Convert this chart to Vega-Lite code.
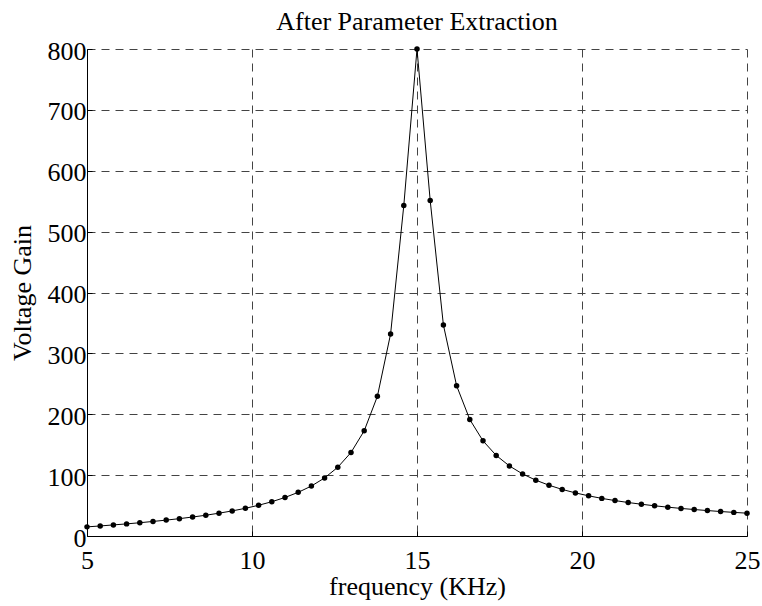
{
  "$schema": "https://vega.github.io/schema/vega-lite/v6.json",
  "autosize": {"type": "none"},
  "padding": {"left": 87, "top": 49, "right": 15, "bottom": 70},
  "width": 660,
  "height": 487,
  "background": "white",
  "title": {
    "text": "After Parameter Extraction",
    "font": "Liberation Serif",
    "fontSize": 26,
    "fontWeight": "normal",
    "color": "black",
    "offset": 3
  },
  "config": {
    "view": {"stroke": null},
    "axis": {
      "labelFont": "Liberation Serif",
      "titleFont": "Liberation Serif",
      "labelFontSize": 26,
      "titleFontSize": 26,
      "titleFontWeight": "normal",
      "labelColor": "black",
      "titleColor": "black",
      "domainColor": "black",
      "domainWidth": 1,
      "tickColor": "black",
      "tickSize": -5,
      "grid": true,
      "gridColor": "#444444",
      "gridDash": [8, 6],
      "gridWidth": 1,
      "gridOpacity": 1
    }
  },
  "data": {
    "values": [
      {"f": 5.0, "gain": 15.0}, {"f": 5.4, "gain": 16.5}, {"f": 5.8, "gain": 18.2}, {"f": 6.2, "gain": 19.9},
      {"f": 6.6, "gain": 21.8}, {"f": 7.0, "gain": 23.9}, {"f": 7.4, "gain": 26.1}, {"f": 7.8, "gain": 28.5},
      {"f": 8.2, "gain": 31.2}, {"f": 8.6, "gain": 34.1}, {"f": 9.0, "gain": 37.5}, {"f": 9.4, "gain": 41.2},
      {"f": 9.8, "gain": 45.5}, {"f": 10.2, "gain": 50.5}, {"f": 10.6, "gain": 56.3}, {"f": 11.0, "gain": 63.3},
      {"f": 11.4, "gain": 71.7}, {"f": 11.8, "gain": 82.1}, {"f": 12.2, "gain": 95.4}, {"f": 12.6, "gain": 113.0},
      {"f": 13.0, "gain": 137.2}, {"f": 13.4, "gain": 172.8}, {"f": 13.8, "gain": 229.5}, {"f": 14.2, "gain": 332.0},
      {"f": 14.6, "gain": 543.0}, {"f": 15.0, "gain": 800.0}, {"f": 15.4, "gain": 551.0}, {"f": 15.8, "gain": 346.7},
      {"f": 16.2, "gain": 246.9}, {"f": 16.6, "gain": 191.3}, {"f": 17.0, "gain": 156.3}, {"f": 17.4, "gain": 132.4},
      {"f": 17.8, "gain": 115.1}, {"f": 18.2, "gain": 101.9}, {"f": 18.6, "gain": 91.7}, {"f": 19.0, "gain": 83.4},
      {"f": 19.4, "gain": 76.5}, {"f": 19.8, "gain": 70.8}, {"f": 20.2, "gain": 66.0}, {"f": 20.6, "gain": 61.8},
      {"f": 21.0, "gain": 58.2}, {"f": 21.4, "gain": 55.0}, {"f": 21.8, "gain": 52.2}, {"f": 22.2, "gain": 49.6},
      {"f": 22.6, "gain": 47.4}, {"f": 23.0, "gain": 45.3}, {"f": 23.4, "gain": 43.5}, {"f": 23.8, "gain": 41.8},
      {"f": 24.2, "gain": 40.2}, {"f": 24.6, "gain": 38.8}, {"f": 25.0, "gain": 37.5}
    ]
  },
  "encoding": {
    "x": {
      "field": "f",
      "type": "quantitative",
      "scale": {"domain": [5, 25], "nice": false, "zero": false},
      "axis": {"values": [5, 10, 15, 20, 25], "title": "frequency (KHz)", "labelPadding": 16, "titlePadding": 0, "labelFlush": false}
    },
    "y": {
      "field": "gain",
      "type": "quantitative",
      "scale": {"domain": [0, 800], "nice": false},
      "axis": {"values": [0, 100, 200, 300, 400, 500, 600, 700, 800], "title": "Voltage Gain", "labelPadding": 6, "labelOffset": 2, "titlePadding": 12, "labelFlush": false}
    }
  },
  "layer": [
    {"mark": {"type": "line", "color": "black", "strokeWidth": 1}},
    {"mark": {"type": "point", "filled": true, "color": "black", "opacity": 1, "size": 30}}
  ]
}
